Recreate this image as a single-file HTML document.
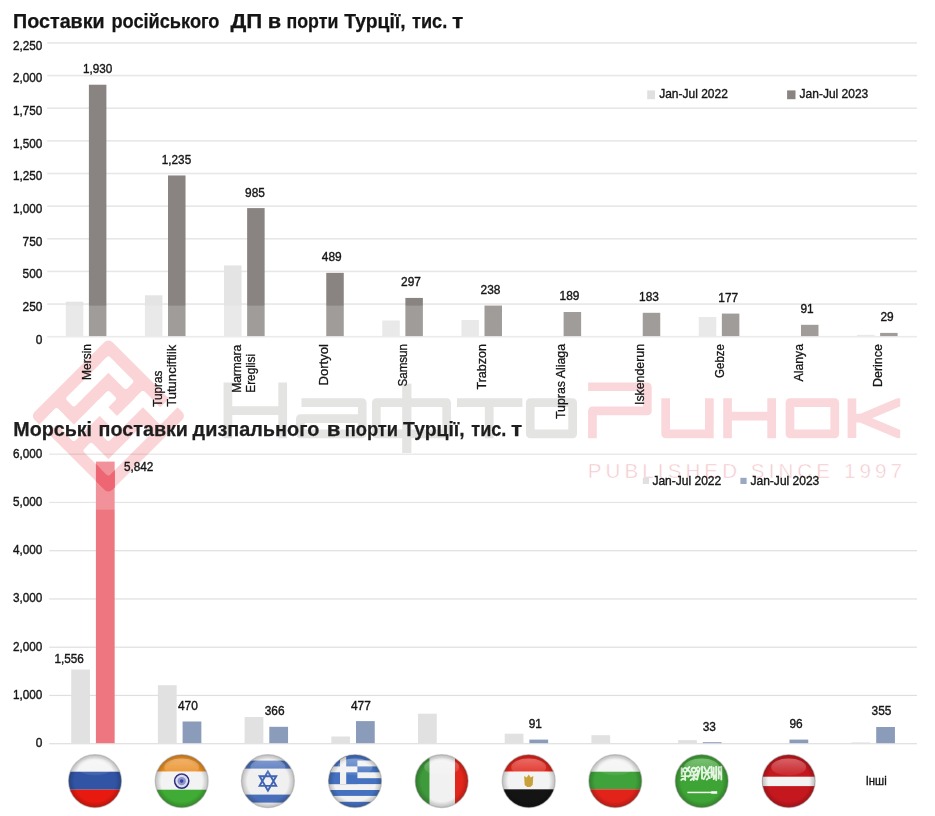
<!DOCTYPE html>
<html lang="uk"><head><meta charset="utf-8"><title>Поставки ДП в порти Турції</title>
<style>
html,body{margin:0;padding:0;background:#fff;}
body{width:935px;height:816px;overflow:hidden;}
svg{display:block;font-family:"Liberation Sans",sans-serif;}
</style></head><body>
<svg width="935" height="816" viewBox="0 0 935 816">
<rect width="935" height="816" fill="#ffffff"/>
<rect x="47.20" y="335.90" width="869.80" height="1.60" fill="#e7e7e7" />
<rect x="47.20" y="303.26" width="869.80" height="1.60" fill="#e7e7e7" />
<rect x="47.20" y="270.62" width="869.80" height="1.60" fill="#e7e7e7" />
<rect x="47.20" y="237.98" width="869.80" height="1.60" fill="#e7e7e7" />
<rect x="47.20" y="205.34" width="869.80" height="1.60" fill="#e7e7e7" />
<rect x="47.20" y="172.70" width="869.80" height="1.60" fill="#e7e7e7" />
<rect x="47.20" y="140.06" width="869.80" height="1.60" fill="#e7e7e7" />
<rect x="47.20" y="107.42" width="869.80" height="1.60" fill="#e7e7e7" />
<rect x="47.20" y="74.78" width="869.80" height="1.60" fill="#e7e7e7" />
<rect x="47.20" y="42.14" width="869.80" height="1.60" fill="#e7e7e7" />
<rect x="49.20" y="743.10" width="867.80" height="1.20" fill="#dfdfdf" />
<rect x="49.20" y="694.85" width="867.80" height="1.20" fill="#dfdfdf" />
<rect x="49.20" y="646.60" width="867.80" height="1.20" fill="#dfdfdf" />
<rect x="49.20" y="598.35" width="867.80" height="1.20" fill="#dfdfdf" />
<rect x="49.20" y="550.10" width="867.80" height="1.20" fill="#dfdfdf" />
<rect x="49.20" y="501.85" width="867.80" height="1.20" fill="#dfdfdf" />
<rect x="49.20" y="453.60" width="867.80" height="1.20" fill="#dfdfdf" />
<rect x="65.80" y="301.71" width="17.50" height="34.39" fill="#e5e4e4" />
<rect x="88.90" y="84.72" width="17.50" height="251.38" fill="#898481" />
<rect x="144.92" y="295.31" width="17.50" height="40.79" fill="#e5e4e4" />
<rect x="168.02" y="175.46" width="17.50" height="160.64" fill="#898481" />
<rect x="224.04" y="265.41" width="17.50" height="70.69" fill="#e5e4e4" />
<rect x="247.14" y="208.10" width="17.50" height="128.00" fill="#898481" />
<rect x="326.26" y="272.86" width="17.50" height="63.24" fill="#898481" />
<rect x="382.28" y="320.51" width="17.50" height="15.59" fill="#e5e4e4" />
<rect x="405.38" y="297.92" width="17.50" height="38.18" fill="#898481" />
<rect x="461.40" y="319.99" width="17.50" height="16.11" fill="#e5e4e4" />
<rect x="484.50" y="305.63" width="17.50" height="30.47" fill="#898481" />
<rect x="563.62" y="312.02" width="17.50" height="24.08" fill="#898481" />
<rect x="642.74" y="312.81" width="17.50" height="23.29" fill="#898481" />
<rect x="698.76" y="316.99" width="17.50" height="19.11" fill="#e5e4e4" />
<rect x="721.86" y="313.59" width="17.50" height="22.51" fill="#898481" />
<rect x="800.98" y="324.82" width="17.50" height="11.28" fill="#898481" />
<rect x="857.00" y="334.87" width="17.50" height="1.23" fill="#e5e4e4" />
<rect x="880.10" y="332.91" width="17.50" height="3.19" fill="#898481" />
<rect x="71.20" y="669.50" width="18.75" height="73.65" fill="#e1e1e1" />
<rect x="95.90" y="461.60" width="18.75" height="281.55" fill="#ee7680" />
<rect x="157.90" y="685.20" width="18.75" height="57.95" fill="#e1e1e1" />
<rect x="182.60" y="721.50" width="18.75" height="21.65" fill="#8b9cba" />
<rect x="244.60" y="717.00" width="18.75" height="26.15" fill="#e1e1e1" />
<rect x="269.30" y="726.80" width="18.75" height="16.35" fill="#8b9cba" />
<rect x="331.30" y="736.50" width="18.75" height="6.65" fill="#e1e1e1" />
<rect x="356.00" y="721.10" width="18.75" height="22.05" fill="#8b9cba" />
<rect x="418.00" y="713.70" width="18.75" height="29.45" fill="#e1e1e1" />
<rect x="504.70" y="733.70" width="18.75" height="9.45" fill="#e1e1e1" />
<rect x="529.40" y="739.60" width="18.75" height="3.55" fill="#8b9cba" />
<rect x="591.40" y="735.20" width="18.75" height="7.95" fill="#e1e1e1" />
<rect x="678.10" y="740.10" width="18.75" height="3.05" fill="#e1e1e1" />
<rect x="702.80" y="742.20" width="18.75" height="0.95" fill="#8b9cba" />
<rect x="789.50" y="739.60" width="18.75" height="3.55" fill="#8b9cba" />
<rect x="851.50" y="742.40" width="18.75" height="0.75" fill="#e1e1e1" />
<rect x="876.20" y="727.00" width="18.75" height="16.15" fill="#8b9cba" />
<rect x="0.00" y="305.60" width="935.00" height="204.10" fill="#ffffff" opacity="0.2"/>
<g id="wm">
<g transform="translate(108.4,338.2) rotate(45) scale(12.22)" opacity="0.17">
<mask id="lm" maskUnits="userSpaceOnUse" x="-1" y="-1" width="11" height="11"><rect x="-1" y="-1" width="11" height="11" fill="#fff"/><rect x="1" y="1" width="3" height="1" rx="0.22" fill="#000"/><rect x="1" y="1" width="1" height="5" rx="0.22" fill="#000"/><rect x="5" y="7" width="3" height="1" rx="0.22" fill="#000"/><rect x="7" y="3" width="1" height="5" rx="0.22" fill="#000"/><rect x="7" y="-0.5" width="1" height="2.5" rx="0.22" fill="#000"/><rect x="5" y="1" width="3" height="1" rx="0.22" fill="#000"/><rect x="5" y="1" width="1" height="5" rx="0.22" fill="#000"/><rect x="3" y="4" width="3" height="1" rx="0.22" fill="#000"/><rect x="3" y="3" width="1" height="5" rx="0.22" fill="#000"/><rect x="1" y="7" width="3" height="1" rx="0.22" fill="#000"/><rect x="1" y="7" width="1" height="2.5" rx="0.22" fill="#000"/></mask>
<rect x="0" y="0" width="9" height="9" rx="0.45" fill="#e30613" mask="url(#lm)"/>
</g>
<path d="M227.9,382.4 V438.2 M282.7,382.4 V438.2 M227.9,410.6 H282.7" fill="none" stroke="#e4e4e2" stroke-width="8.7" stroke-linejoin="round" />
<path d="M301.5,402.55 H362.25 V433.84999999999997 H300.35 V418.65 H362.25" fill="none" stroke="#e4e4e2" stroke-width="8.7" stroke-linejoin="round" />
<path d="M376.35,402.55 H446.65 V433.84999999999997 H376.35 Z" fill="none" stroke="#e4e4e2" stroke-width="8.7" stroke-linejoin="round" />
<path d="M406.8,383.6 V453" fill="none" stroke="#e4e4e2" stroke-width="9.2" stroke-linejoin="round" />
<path d="M457,402.55 H522.4 M489.2,402.55 V438.2" fill="none" stroke="#e4e4e2" stroke-width="8.7" stroke-linejoin="round" />
<path d="M530.25,402.55 H572.65 V433.84999999999997 H530.25 Z" fill="none" stroke="#e4e4e2" stroke-width="8.7" stroke-linejoin="round" />
<path d="M588.1,386.75 H647.35 V410.9 H592.45 V438.2" fill="none" stroke="#fad7db" stroke-width="8.7" stroke-linejoin="round" />
<path d="M665.65,398.2 V433.84999999999997 H706 M709.35,398.2 V438.2" fill="none" stroke="#fad7db" stroke-width="8.7" stroke-linejoin="round" />
<path d="M727.5500000000001,398.2 V438.2 M771.65,398.2 V438.2 M727.5500000000001,416.2 H771.65" fill="none" stroke="#fad7db" stroke-width="8.7" stroke-linejoin="round" />
<path d="M789.95,402.55 H834.75 V433.84999999999997 H789.95 Z" fill="none" stroke="#fad7db" stroke-width="8.7" stroke-linejoin="round" />
<clipPath id="kc"><rect x="840" y="398.2" width="60.2" height="40.0"/></clipPath>
<path d="M851.95,398.2 V438.2 M851.95,418.2 H861 L906,399.2 M861,418.2 L906,437.2" fill="none" stroke="#fad7db" stroke-width="8.7" stroke-linejoin="round" clip-path="url(#kc)"/>
<text x="587.8" y="478.2" font-size="20.6" fill="#f5c6cc" stroke="#ffffff" stroke-width="0.55" textLength="314.1" lengthAdjust="spacing">PUBLISHED SINCE 1997</text>
</g>
<clipPath id="rb"><rect x="96.1" y="461.5" width="18.8" height="48.2"/></clipPath>
<g clip-path="url(#rb)"><rect x="0" y="0" width="9" height="9" rx="0.45" transform="translate(108.4,338.2) rotate(45) scale(12.22)" fill="#ee6674" mask="url(#lm)"/></g>
<g opacity="0.999">
<text x="13.10" y="27.60" font-size="20.4" text-anchor="start" font-weight="bold" fill="#141414" textLength="91.60" lengthAdjust="spacingAndGlyphs" stroke="#141414" stroke-width="0.25">Поставки</text>
<text x="111.40" y="27.60" font-size="20.4" text-anchor="start" font-weight="bold" fill="#141414" textLength="108.10" lengthAdjust="spacingAndGlyphs" stroke="#141414" stroke-width="0.25">російського</text>
<text x="230.50" y="27.60" font-size="20.4" text-anchor="start" font-weight="bold" fill="#141414" textLength="31.80" lengthAdjust="spacingAndGlyphs" stroke="#141414" stroke-width="0.25">ДП</text>
<text x="267.70" y="27.60" font-size="20.4" text-anchor="start" font-weight="bold" fill="#141414" textLength="13.40" lengthAdjust="spacingAndGlyphs" stroke="#141414" stroke-width="0.25">в</text>
<text x="286.50" y="27.60" font-size="20.4" text-anchor="start" font-weight="bold" fill="#141414" textLength="51.80" lengthAdjust="spacingAndGlyphs" stroke="#141414" stroke-width="0.25">порти</text>
<text x="344.20" y="27.60" font-size="20.4" text-anchor="start" font-weight="bold" fill="#141414" textLength="61.40" lengthAdjust="spacingAndGlyphs" stroke="#141414" stroke-width="0.25">Турції,</text>
<text x="412.00" y="27.60" font-size="20.4" text-anchor="start" font-weight="bold" fill="#141414" textLength="35.20" lengthAdjust="spacingAndGlyphs" stroke="#141414" stroke-width="0.25">тис.</text>
<text x="452.00" y="27.60" font-size="20.4" text-anchor="start" font-weight="bold" fill="#141414" textLength="11.30" lengthAdjust="spacingAndGlyphs" stroke="#141414" stroke-width="0.25">т</text>
<text x="13.30" y="435.60" font-size="20.4" text-anchor="start" font-weight="bold" fill="#1e1e1e" textLength="78.80" lengthAdjust="spacingAndGlyphs" stroke="#1e1e1e" stroke-width="0.25">Морські</text>
<text x="98.60" y="435.60" font-size="20.4" text-anchor="start" font-weight="bold" fill="#1e1e1e" textLength="89.40" lengthAdjust="spacingAndGlyphs" stroke="#1e1e1e" stroke-width="0.25">поставки</text>
<text x="192.60" y="435.60" font-size="20.4" text-anchor="start" font-weight="bold" fill="#1e1e1e" textLength="126.70" lengthAdjust="spacingAndGlyphs" stroke="#1e1e1e" stroke-width="0.25">дизпального</text>
<text x="326.70" y="435.60" font-size="20.4" text-anchor="start" font-weight="bold" fill="#1e1e1e" textLength="13.70" lengthAdjust="spacingAndGlyphs" stroke="#1e1e1e" stroke-width="0.25">в</text>
<text x="344.70" y="435.60" font-size="20.4" text-anchor="start" font-weight="bold" fill="#1e1e1e" textLength="53.30" lengthAdjust="spacingAndGlyphs" stroke="#1e1e1e" stroke-width="0.25">порти</text>
<text x="403.10" y="435.60" font-size="20.4" text-anchor="start" font-weight="bold" fill="#1e1e1e" textLength="61.60" lengthAdjust="spacingAndGlyphs" stroke="#1e1e1e" stroke-width="0.25">Турції,</text>
<text x="471.30" y="435.60" font-size="20.4" text-anchor="start" font-weight="bold" fill="#1e1e1e" textLength="35.10" lengthAdjust="spacingAndGlyphs" stroke="#1e1e1e" stroke-width="0.25">тис.</text>
<text x="511.10" y="435.60" font-size="20.4" text-anchor="start" font-weight="bold" fill="#1e1e1e" textLength="11.20" lengthAdjust="spacingAndGlyphs" stroke="#1e1e1e" stroke-width="0.25">т</text>
<text x="42.40" y="343.60" font-size="12.2" text-anchor="end" font-weight="normal" fill="#161616" stroke="#161616" stroke-width="0.38" textLength="6.62" lengthAdjust="spacingAndGlyphs" >0</text>
<text x="42.40" y="310.96" font-size="12.2" text-anchor="end" font-weight="normal" fill="#161616" stroke="#161616" stroke-width="0.38" textLength="19.86" lengthAdjust="spacingAndGlyphs" >250</text>
<text x="42.40" y="278.32" font-size="12.2" text-anchor="end" font-weight="normal" fill="#161616" stroke="#161616" stroke-width="0.38" textLength="19.86" lengthAdjust="spacingAndGlyphs" >500</text>
<text x="42.40" y="245.68" font-size="12.2" text-anchor="end" font-weight="normal" fill="#161616" stroke="#161616" stroke-width="0.38" textLength="19.86" lengthAdjust="spacingAndGlyphs" >750</text>
<text x="42.40" y="213.04" font-size="12.2" text-anchor="end" font-weight="normal" fill="#161616" stroke="#161616" stroke-width="0.38" textLength="29.38" lengthAdjust="spacingAndGlyphs" >1,000</text>
<text x="42.40" y="180.40" font-size="12.2" text-anchor="end" font-weight="normal" fill="#161616" stroke="#161616" stroke-width="0.38" textLength="29.38" lengthAdjust="spacingAndGlyphs" >1,250</text>
<text x="42.40" y="147.76" font-size="12.2" text-anchor="end" font-weight="normal" fill="#161616" stroke="#161616" stroke-width="0.38" textLength="29.38" lengthAdjust="spacingAndGlyphs" >1,500</text>
<text x="42.40" y="115.12" font-size="12.2" text-anchor="end" font-weight="normal" fill="#161616" stroke="#161616" stroke-width="0.38" textLength="29.38" lengthAdjust="spacingAndGlyphs" >1,750</text>
<text x="42.40" y="82.48" font-size="12.2" text-anchor="end" font-weight="normal" fill="#161616" stroke="#161616" stroke-width="0.38" textLength="29.38" lengthAdjust="spacingAndGlyphs" >2,000</text>
<text x="42.40" y="49.84" font-size="12.2" text-anchor="end" font-weight="normal" fill="#161616" stroke="#161616" stroke-width="0.38" textLength="29.38" lengthAdjust="spacingAndGlyphs" >2,250</text>
<text x="42.40" y="747.20" font-size="12.2" text-anchor="end" font-weight="normal" fill="#161616" stroke="#161616" stroke-width="0.38" textLength="6.62" lengthAdjust="spacingAndGlyphs" >0</text>
<text x="42.40" y="698.95" font-size="12.2" text-anchor="end" font-weight="normal" fill="#161616" stroke="#161616" stroke-width="0.38" textLength="29.38" lengthAdjust="spacingAndGlyphs" >1,000</text>
<text x="42.40" y="650.70" font-size="12.2" text-anchor="end" font-weight="normal" fill="#161616" stroke="#161616" stroke-width="0.38" textLength="29.38" lengthAdjust="spacingAndGlyphs" >2,000</text>
<text x="42.40" y="602.45" font-size="12.2" text-anchor="end" font-weight="normal" fill="#161616" stroke="#161616" stroke-width="0.38" textLength="29.38" lengthAdjust="spacingAndGlyphs" >3,000</text>
<text x="42.40" y="554.20" font-size="12.2" text-anchor="end" font-weight="normal" fill="#161616" stroke="#161616" stroke-width="0.38" textLength="29.38" lengthAdjust="spacingAndGlyphs" >4,000</text>
<text x="42.40" y="505.95" font-size="12.2" text-anchor="end" font-weight="normal" fill="#161616" stroke="#161616" stroke-width="0.38" textLength="29.38" lengthAdjust="spacingAndGlyphs" >5,000</text>
<text x="42.40" y="457.70" font-size="12.2" text-anchor="end" font-weight="normal" fill="#161616" stroke="#161616" stroke-width="0.38" textLength="29.38" lengthAdjust="spacingAndGlyphs" >6,000</text>
<text x="97.70" y="73.12" font-size="12.6" text-anchor="middle" font-weight="normal" fill="#161616" stroke="#161616" stroke-width="0.38" textLength="29.38" lengthAdjust="spacingAndGlyphs" >1,930</text>
<text x="176.50" y="163.86" font-size="12.6" text-anchor="middle" font-weight="normal" fill="#161616" stroke="#161616" stroke-width="0.38" textLength="29.38" lengthAdjust="spacingAndGlyphs" >1,235</text>
<text x="255.00" y="196.50" font-size="12.6" text-anchor="middle" font-weight="normal" fill="#161616" stroke="#161616" stroke-width="0.38" textLength="19.86" lengthAdjust="spacingAndGlyphs" >985</text>
<text x="331.75" y="261.26" font-size="12.6" text-anchor="middle" font-weight="normal" fill="#161616" stroke="#161616" stroke-width="0.38" textLength="19.86" lengthAdjust="spacingAndGlyphs" >489</text>
<text x="411.00" y="286.32" font-size="12.6" text-anchor="middle" font-weight="normal" fill="#161616" stroke="#161616" stroke-width="0.38" textLength="19.86" lengthAdjust="spacingAndGlyphs" >297</text>
<text x="490.50" y="294.03" font-size="12.6" text-anchor="middle" font-weight="normal" fill="#161616" stroke="#161616" stroke-width="0.38" textLength="19.86" lengthAdjust="spacingAndGlyphs" >238</text>
<text x="569.50" y="300.42" font-size="12.6" text-anchor="middle" font-weight="normal" fill="#161616" stroke="#161616" stroke-width="0.38" textLength="19.86" lengthAdjust="spacingAndGlyphs" >189</text>
<text x="649.00" y="301.21" font-size="12.6" text-anchor="middle" font-weight="normal" fill="#161616" stroke="#161616" stroke-width="0.38" textLength="19.86" lengthAdjust="spacingAndGlyphs" >183</text>
<text x="728.25" y="301.99" font-size="12.6" text-anchor="middle" font-weight="normal" fill="#161616" stroke="#161616" stroke-width="0.38" textLength="19.86" lengthAdjust="spacingAndGlyphs" >177</text>
<text x="807.00" y="313.22" font-size="12.6" text-anchor="middle" font-weight="normal" fill="#161616" stroke="#161616" stroke-width="0.38" textLength="13.24" lengthAdjust="spacingAndGlyphs" >91</text>
<text x="887.00" y="321.31" font-size="12.6" text-anchor="middle" font-weight="normal" fill="#161616" stroke="#161616" stroke-width="0.38" textLength="13.24" lengthAdjust="spacingAndGlyphs" >29</text>
<text x="69.10" y="663.00" font-size="12.6" text-anchor="middle" font-weight="normal" fill="#161616" stroke="#161616" stroke-width="0.38" textLength="29.38" lengthAdjust="spacingAndGlyphs" >1,556</text>
<text x="138.70" y="471.30" font-size="12.6" text-anchor="middle" font-weight="normal" fill="#161616" stroke="#161616" stroke-width="0.38" textLength="29.38" lengthAdjust="spacingAndGlyphs" >5,842</text>
<text x="187.90" y="709.80" font-size="12.6" text-anchor="middle" font-weight="normal" fill="#161616" stroke="#161616" stroke-width="0.38" textLength="19.86" lengthAdjust="spacingAndGlyphs" >470</text>
<text x="274.60" y="715.00" font-size="12.6" text-anchor="middle" font-weight="normal" fill="#161616" stroke="#161616" stroke-width="0.38" textLength="19.86" lengthAdjust="spacingAndGlyphs" >366</text>
<text x="360.90" y="709.80" font-size="12.6" text-anchor="middle" font-weight="normal" fill="#161616" stroke="#161616" stroke-width="0.38" textLength="19.86" lengthAdjust="spacingAndGlyphs" >477</text>
<text x="535.30" y="727.80" font-size="12.6" text-anchor="middle" font-weight="normal" fill="#161616" stroke="#161616" stroke-width="0.38" textLength="13.24" lengthAdjust="spacingAndGlyphs" >91</text>
<text x="709.30" y="730.60" font-size="12.6" text-anchor="middle" font-weight="normal" fill="#161616" stroke="#161616" stroke-width="0.38" textLength="13.24" lengthAdjust="spacingAndGlyphs" >33</text>
<text x="796.10" y="727.80" font-size="12.6" text-anchor="middle" font-weight="normal" fill="#161616" stroke="#161616" stroke-width="0.38" textLength="13.24" lengthAdjust="spacingAndGlyphs" >96</text>
<text x="881.50" y="715.20" font-size="12.6" text-anchor="middle" font-weight="normal" fill="#161616" stroke="#161616" stroke-width="0.38" textLength="19.86" lengthAdjust="spacingAndGlyphs" >355</text>
<rect x="647.20" y="90.40" width="7.80" height="8.80" fill="#e0e0e0" />
<text x="659.20" y="98.10" font-size="12.6" text-anchor="start" font-weight="normal" fill="#161616" stroke="#161616" stroke-width="0.38" textLength="68.70" lengthAdjust="spacingAndGlyphs" >Jan-Jul 2022</text>
<rect x="787.10" y="90.40" width="8.40" height="8.80" fill="#898481" />
<text x="799.60" y="98.10" font-size="12.6" text-anchor="start" font-weight="normal" fill="#161616" stroke="#161616" stroke-width="0.38" textLength="68.70" lengthAdjust="spacingAndGlyphs" >Jan-Jul 2023</text>
<rect x="642.80" y="477.80" width="6.20" height="6.20" fill="#e0e0e0" />
<text x="652.40" y="484.60" font-size="12.4" text-anchor="start" font-weight="normal" fill="#161616" stroke="#161616" stroke-width="0.38" textLength="68.80" lengthAdjust="spacingAndGlyphs" >Jan-Jul 2022</text>
<rect x="740.40" y="477.80" width="6.20" height="6.20" fill="#9aa8c0" />
<text x="750.50" y="484.60" font-size="12.4" text-anchor="start" font-weight="normal" fill="#161616" stroke="#161616" stroke-width="0.38" textLength="68.80" lengthAdjust="spacingAndGlyphs" >Jan-Jul 2023</text>
<text transform="translate(90.70,380.00) rotate(-90)" font-size="12.8" fill="#161616" stroke="#161616" stroke-width="0.3" textLength="36" lengthAdjust="spacingAndGlyphs">Mersin</text>
<text transform="translate(162.10,406.80) rotate(-90)" font-size="12.8" fill="#161616" stroke="#161616" stroke-width="0.3" textLength="36.3" lengthAdjust="spacingAndGlyphs">Tupras</text>
<text transform="translate(175.60,406.80) rotate(-90)" font-size="12.8" fill="#161616" stroke="#161616" stroke-width="0.3" textLength="62" lengthAdjust="spacingAndGlyphs">Tutunciftlik</text>
<text transform="translate(241.20,392.80) rotate(-90)" font-size="12.8" fill="#161616" stroke="#161616" stroke-width="0.3" textLength="48" lengthAdjust="spacingAndGlyphs">Marmara</text>
<text transform="translate(254.70,392.80) rotate(-90)" font-size="12.8" fill="#161616" stroke="#161616" stroke-width="0.3" textLength="39" lengthAdjust="spacingAndGlyphs">Ereglisi</text>
<text transform="translate(328.00,385.50) rotate(-90)" font-size="12.8" fill="#161616" stroke="#161616" stroke-width="0.3" textLength="41.5" lengthAdjust="spacingAndGlyphs">Dortyol</text>
<text transform="translate(407.10,386.50) rotate(-90)" font-size="12.8" fill="#161616" stroke="#161616" stroke-width="0.3" textLength="42.5" lengthAdjust="spacingAndGlyphs">Samsun</text>
<text transform="translate(486.20,389.50) rotate(-90)" font-size="12.8" fill="#161616" stroke="#161616" stroke-width="0.3" textLength="45.5" lengthAdjust="spacingAndGlyphs">Trabzon</text>
<text transform="translate(565.30,419.00) rotate(-90)" font-size="12.8" fill="#161616" stroke="#161616" stroke-width="0.3" textLength="75" lengthAdjust="spacingAndGlyphs">Tupras Aliaga</text>
<text transform="translate(644.40,405.00) rotate(-90)" font-size="12.8" fill="#161616" stroke="#161616" stroke-width="0.3" textLength="61" lengthAdjust="spacingAndGlyphs">Iskenderun</text>
<text transform="translate(723.50,378.00) rotate(-90)" font-size="12.8" fill="#161616" stroke="#161616" stroke-width="0.3" textLength="34" lengthAdjust="spacingAndGlyphs">Gebze</text>
<text transform="translate(802.60,381.50) rotate(-90)" font-size="12.8" fill="#161616" stroke="#161616" stroke-width="0.3" textLength="37.5" lengthAdjust="spacingAndGlyphs">Alanya</text>
<text transform="translate(881.70,387.00) rotate(-90)" font-size="12.8" fill="#161616" stroke="#161616" stroke-width="0.3" textLength="43" lengthAdjust="spacingAndGlyphs">Derince</text>
<text x="865.70" y="784.90" font-size="12.4" text-anchor="start" font-weight="normal" fill="#161616" stroke="#161616" stroke-width="0.38" textLength="21.00" lengthAdjust="spacingAndGlyphs" >Інші</text>
</g>
<defs><clipPath id="fc"><circle cx="0" cy="0" r="26.4"/></clipPath><radialGradient id="shade" cx="50%" cy="50%" r="50%"><stop offset="0.76" stop-color="#000" stop-opacity="0"/><stop offset="1" stop-color="#000" stop-opacity="0.24"/></radialGradient><linearGradient id="gloss" x1="0" y1="0" x2="0" y2="1"><stop offset="0" stop-color="#fff" stop-opacity="0.32"/><stop offset="1" stop-color="#fff" stop-opacity="0.06"/></linearGradient></defs>
<g transform="translate(95,781.1)"><g clip-path="url(#fc)"><rect x="-27" y="-27" width="54" height="17.6" fill="#f3f3f3"/><rect x="-27" y="-9.4" width="54" height="18.0" fill="#3154a4"/><rect x="-27" y="8.6" width="54" height="18.4" fill="#e81a10"/><circle r="27" fill="url(#shade)"/><ellipse cx="0" cy="-14" rx="17.5" ry="8.5" fill="url(#gloss)"/></g><circle r="26.5" fill="none" stroke="#8c8c8c" stroke-opacity="0.45" stroke-width="1.2"/></g>
<g transform="translate(181.7,781.1)"><g clip-path="url(#fc)"><rect x="-27" y="-27" width="54" height="17.6" fill="#ea8e24"/><rect x="-27" y="-9.4" width="54" height="18.0" fill="#f3f3f3"/><rect x="-27" y="8.6" width="54" height="18.4" fill="#41ac35"/><circle cx="0" cy="0" r="7.1" fill="#d9dcf0" stroke="#2b2d7c" stroke-width="1.5"/><circle cx="0" cy="0" r="4.2" fill="#8d93c9"/><circle cx="0" cy="0" r="1.8" fill="#3b44a0"/><circle r="27" fill="url(#shade)"/><ellipse cx="0" cy="-14" rx="17.5" ry="8.5" fill="url(#gloss)"/></g><circle r="26.5" fill="none" stroke="#8c8c8c" stroke-opacity="0.45" stroke-width="1.2"/></g>
<g transform="translate(267.9,781.1)"><g clip-path="url(#fc)"><rect x="-27" y="-27" width="54" height="54" fill="#f0f0f0"/><rect x="-27" y="-20.5" width="54" height="8" fill="#4a6fba"/><rect x="-27" y="13.5" width="54" height="8" fill="#4a6fba"/><path d="M0,-9.6 L8.3,4.8 L-8.3,4.8 Z M0,9.6 L8.3,-4.8 L-8.3,-4.8 Z" fill="none" stroke="#3f64b4" stroke-width="1.9"/><circle r="27" fill="url(#shade)"/><ellipse cx="0" cy="-14" rx="17.5" ry="8.5" fill="url(#gloss)"/></g><circle r="26.5" fill="none" stroke="#8c8c8c" stroke-opacity="0.45" stroke-width="1.2"/></g>
<g transform="translate(355,781.1)"><g clip-path="url(#fc)"><rect x="-27" y="-27" width="54" height="54" fill="#f2f2f2"/><rect x="-27" y="-26.50" width="54" height="5.9" fill="#4472c0"/><rect x="-27" y="-14.70" width="54" height="5.9" fill="#4472c0"/><rect x="-27" y="-2.90" width="54" height="5.9" fill="#4472c0"/><rect x="-27" y="8.90" width="54" height="5.9" fill="#4472c0"/><rect x="-27" y="20.70" width="54" height="5.9" fill="#4472c0"/><rect x="-27" y="-26.5" width="29.4" height="29.5" fill="#4472c0"/><rect x="-15" y="-26.5" width="6.2" height="29.5" fill="#f2f2f2"/><rect x="-27" y="-14.7" width="29.4" height="5.9" fill="#f2f2f2"/><circle r="27" fill="url(#shade)"/><ellipse cx="0" cy="-14" rx="17.5" ry="8.5" fill="url(#gloss)"/></g><circle r="26.5" fill="none" stroke="#8c8c8c" stroke-opacity="0.45" stroke-width="1.2"/></g>
<g transform="translate(441.7,781.1)"><g clip-path="url(#fc)"><rect x="-27" y="-27" width="15" height="54" fill="#3e9a3a"/><rect x="-12" y="-27" width="25.3" height="54" fill="#f1f1f1"/><rect x="13.3" y="-27" width="14" height="54" fill="#e3261c"/><circle r="27" fill="url(#shade)"/><ellipse cx="0" cy="-14" rx="17.5" ry="8.5" fill="url(#gloss)"/></g><circle r="26.5" fill="none" stroke="#8c8c8c" stroke-opacity="0.45" stroke-width="1.2"/></g>
<g transform="translate(528.7,781.1)"><g clip-path="url(#fc)"><rect x="-27" y="-27" width="54" height="17.6" fill="#e0251b"/><rect x="-27" y="-9.4" width="54" height="17.6" fill="#f3f3f3"/><rect x="-27" y="8.2" width="54" height="18.8" fill="#141414"/><path d="M-4.6,-5 L-2,-3.5 L0,-6.5 L2,-3.5 L4.6,-5 L4,4 L1.5,5.8 L-1.5,5.8 L-4,4 Z" fill="#c9a13a"/><circle r="27" fill="url(#shade)"/><ellipse cx="0" cy="-14" rx="17.5" ry="8.5" fill="url(#gloss)"/></g><circle r="26.5" fill="none" stroke="#8c8c8c" stroke-opacity="0.45" stroke-width="1.2"/></g>
<g transform="translate(615.3,781.1)"><g clip-path="url(#fc)"><rect x="-27" y="-27" width="54" height="17.6" fill="#f3f3f3"/><rect x="-27" y="-9.4" width="54" height="17.6" fill="#3fa23a"/><rect x="-27" y="8.2" width="54" height="18.8" fill="#e2231a"/><circle r="27" fill="url(#shade)"/><ellipse cx="0" cy="-14" rx="17.5" ry="8.5" fill="url(#gloss)"/></g><circle r="26.5" fill="none" stroke="#8c8c8c" stroke-opacity="0.45" stroke-width="1.2"/></g>
<g transform="translate(701.7,781.1)"><g clip-path="url(#fc)"><rect x="-27" y="-27" width="54" height="54" fill="#3fa436"/><path d="M19.6,-14.5 V-1.5 M17,-13 V-2.5 M14.5,-14.5 V-1 M12,-13.5 V-3 M9.8,-14.5 V-4 M19.6,-5.5 L17,-10.5 M14.5,-7 L12,-2 M12,-10 L9.8,-5 M17,-14 H19.6 M8,-14 L2,-2 M2.5,-14 L8,-3 M0.3,-14.5 V-2.5 M-1.8,-13 L-4.6,-1.5 M8,-8.5 H0.3 M5,-1.5 l1.5,-1.5 M-3.5,-14 q-3.5,1.5 -1,3.5 q2.5,2 -2,4.5 q-3,2 1,4 M-8,-13.4 a2.2,2.2 0 1,0 0.1,0 M-8,-8.8 V-1 M-12,-5.5 H-4.5 M-12.3,-14 q-3,2 0,4.2 q3,2.2 -1,5.5 M-16.6,-13.2 a2,2 0 1,0 0.1,0 M-16.6,-9 V-1.5 M-20.2,-5 H-13 M-20,-13 V-7 M-20.4,-1.2 q2,-2.4 4,0 M-11,-1 l2,-1.6" fill="none" stroke="#f4fbf2" stroke-width="1.9" stroke-linecap="round" opacity="0.9"/><rect x="-14.3" y="10.6" width="29.5" height="1.5" fill="#f4fbf2"/><rect x="9.5" y="10.1" width="6" height="2.6" fill="#f4fbf2" opacity="0.9"/><circle r="27" fill="url(#shade)"/><ellipse cx="0" cy="-14" rx="17.5" ry="8.5" fill="url(#gloss)"/></g><circle r="26.5" fill="none" stroke="#8c8c8c" stroke-opacity="0.45" stroke-width="1.2"/></g>
<g transform="translate(788.7,781.1)"><g clip-path="url(#fc)"><rect x="-27" y="-27" width="54" height="54" fill="#c5181e"/><rect x="-27" y="-4.4" width="54" height="9.4" fill="#f3f3f3"/><circle r="27" fill="url(#shade)"/><ellipse cx="0" cy="-14" rx="17.5" ry="8.5" fill="url(#gloss)"/></g><circle r="26.5" fill="none" stroke="#8c8c8c" stroke-opacity="0.45" stroke-width="1.2"/></g>
</svg>
</body></html>
